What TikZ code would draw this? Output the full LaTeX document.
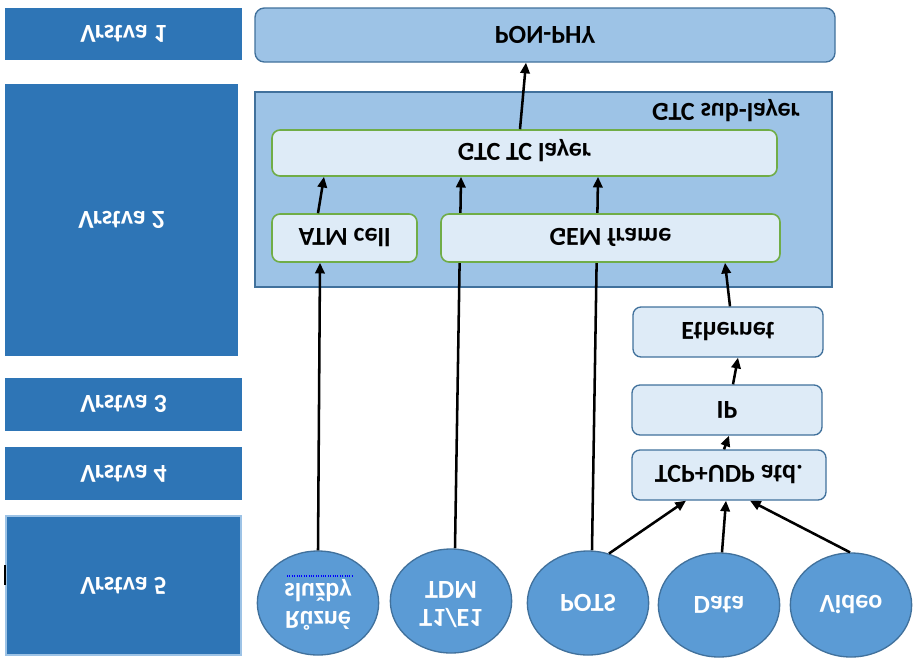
\documentclass[tikz,border=0pt]{standalone}
\usepackage{fontspec}
\setmainfont{Carlito}
\usetikzlibrary{arrows.meta,calc,fit,shapes.geometric}
\pgfdeclarelayer{bg}\pgfdeclarelayer{mid}\pgfsetlayers{bg,mid,main}
\newcommand\flipv[1]{\scalebox{1}[-1]{#1}}
\definecolor{layerblue}{HTML}{2E75B6}
\definecolor{lightblue}{HTML}{9DC3E6}
\definecolor{paleblue}{HTML}{DEEBF7}
\definecolor{edgeblue}{HTML}{41719C}
\definecolor{grn}{HTML}{70AD47}
\definecolor{circblue}{HTML}{5B9BD5}
\tikzset{
  every node/.style={font=\bfseries\fontsize{19.5}{21}\selectfont, inner sep=0pt},
  layerbox/.style={draw=none, fill=layerblue, text=white},
  phybox/.style={draw=edgeblue, line width=1pt, fill=lightblue, rounded corners=7pt},
  subbox/.style={draw=edgeblue, line width=0.8pt, fill=lightblue},
  gbox/.style={draw=grn, line width=1.2pt, fill=paleblue, rounded corners=6pt},
  pbox/.style={draw=edgeblue, line width=1pt, fill=paleblue, rounded corners=6pt},
  circ/.style={ellipse, draw=edgeblue, line width=1pt, fill=circblue, text=white,
     minimum width=91pt, minimum height=78pt},
  arr/.style={line width=1.9pt, -{Triangle[length=8pt,width=7pt]}},
}
\begin{document}
\begin{tikzpicture}[x=0.75pt,y=-0.75pt]
\useasboundingbox (0,0) rectangle (922,662);
% left layer boxes
\node[layerbox, fit={(5,8)(242,60)}] (v1) {\flipv{Vrstva 1}};
\node[layerbox, fit={(5,84)(238,356)}] (v2) {\flipv{Vrstva 2}};
\node[layerbox, fit={(5,378)(242,431)}] (v3) {\flipv{Vrstva 3}};
\node[layerbox, fit={(5,447)(242,500)}] (v4) {\flipv{Vrstva 4}};
\node[layerbox, draw=lightblue, line width=1.5pt, fit={(6,516)(241,655)}] (v5) {\flipv{Vrstva 5}};
\draw[line width=1pt] (5,565) -- (5,585);
% PON-PHY
\node[phybox, fit={(255,8)(835,62)}] (pon) {\flipv{PON-PHY}};
% GTC sub-layer
\begin{pgfonlayer}{bg}
\node[subbox, fit={(255,92)(832,287)}] (sub) {};
\end{pgfonlayer}
\node (sublab) at (726,111) {\flipv{GTC sub-layer}};
\node[gbox, fit={(272,130)(777,176)}] (gtctc) {\flipv{GTC TC layer}};
\node[gbox, fit={(272,214)(417,262)}] (atm) {\flipv{ATM cell}};
\node[gbox, fit={(441,214)(780,262)}] (gem) {\flipv{GEM frame}};
% right stack
\node[pbox, fit={(633,307)(823,357)}] (eth) {\flipv{Ethernet}};
\node[pbox, fit={(632,385)(822,435)}] (ip) {\flipv{IP}};
\node[pbox, fit={(632,450)(826,500)}] (tcp) {\flipv{TCP+UDP atd.}};
% circles
\node[circ] (rz) at (318,603) {\flipv{\begin{tabular}{@{}c@{}}Různé\\služby\end{tabular}}};
\node[circ] (tdm) at (451,601) {\flipv{\begin{tabular}{@{}c@{}}T1/E1\\TDM\end{tabular}}};
\node[circ] (pots) at (588,603) {\flipv{POTS}};
\node[circ] (data) at (719,605) {\flipv{Data}};
\node[circ] (video) at (851,605) {\flipv{Video}};
\draw[blue, densely dotted, line width=0.8pt] (287,576) -- (352,576);
% connectors
\draw[arr] ($(gtctc.north)+(-4.5,0)$) -- ($(pon.south)+(-19,0)$);
\draw[arr] ($(atm.north)+(-26.5,0)$) -- ($(gtctc.south)+(-200.5,0)$);
\draw[arr] (rz.north) -- ($(atm.south)+(-24.5,0)$);
\begin{pgfonlayer}{mid}
\draw[arr] ($(tdm.north)+(4,0)$) -- ($(gtctc.south)+(-63.5,0)$);
\draw[arr] ($(pots.north)+(4,0)$) -- ($(gtctc.south)+(73.5,0)$);
\end{pgfonlayer}
\draw[arr] ($(eth.north)+(2,0)$) -- ($(gem.south)+(114.5,0)$);
\draw[arr] ($(ip.north)+(6,0)$) -- ($(eth.south)+(10,0)$);
\draw[arr] ($(tcp.north)+(-5,0)$) -- ($(ip.south)+(2,0)$);
\draw[arr] (pots.67) -- ($(tcp.south)+(-43,0)$);
\draw[arr] ($(data.north)+(3,0)$) -- ($(tcp.south)+(-3,0)$);
\draw[arr] ($(video.north)+(-1,0)$) -- ($(tcp.south)+(21,0)$);
\end{tikzpicture}
\end{document}
